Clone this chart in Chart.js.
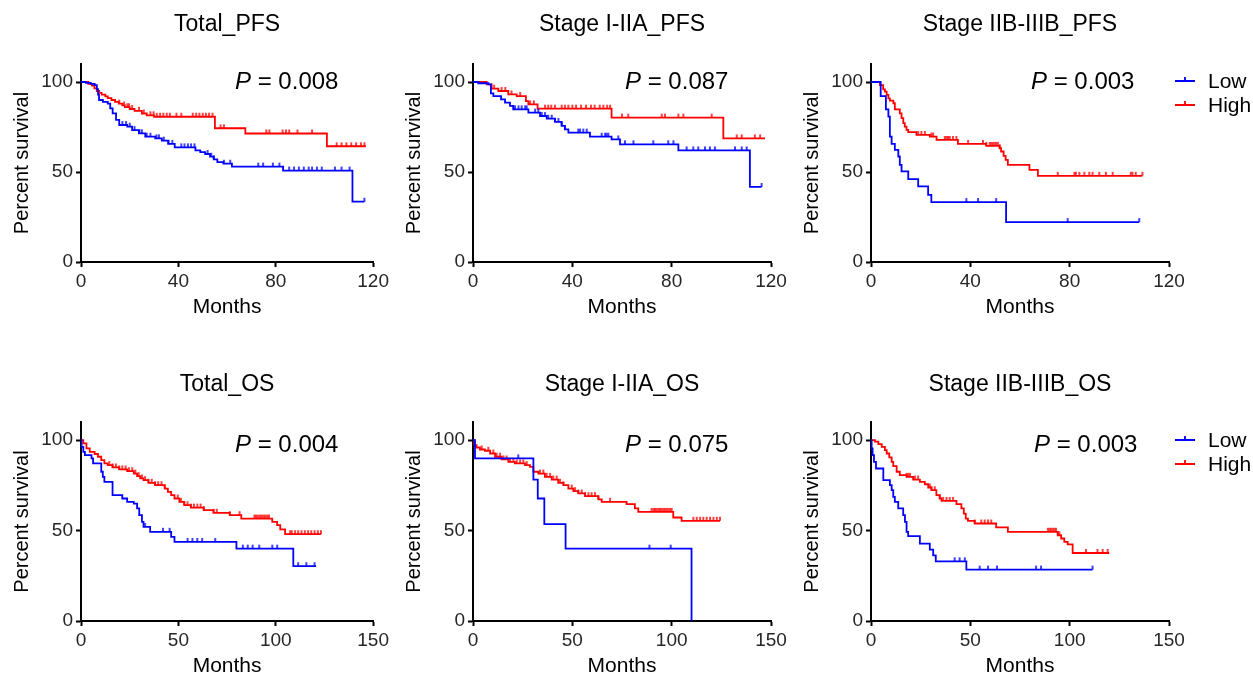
<!DOCTYPE html>
<html><head><meta charset="utf-8">
<script src="https://cdn.jsdelivr.net/npm/chart.js@4.4.1/dist/chart.umd.min.js"></script>
<style>
html,body{margin:0;padding:0;background:#fff;width:1253px;height:678px;overflow:hidden;}
canvas{position:absolute;}
</style></head><body>
<script>
// ---------- tick labels ----------
const pfsMonthTicks = [0, 40, 80, 120];
const osMonthTicks = [0, 50, 100, 150];
const survivalTicks = [0, 50, 100];

// ---------- Total_PFS ----------
const totalPFS_low = [[0,100],[2,99.5],[4,99],[5.6,98.3],[6.5,96],[7,93],[7.4,90],[9,89],[11,88],[12,85.4],[13,82.6],[14.4,79],[15.7,76.1],[19,75.2],[21,73.3],[23.8,71.5],[26.4,69.6],[30.5,68.7],[33.2,67.4],[35.8,65.6],[38.5,63.7],[47,62],[49,61],[51,60],[53,58.5],[54.5,57],[56,55.5],[58.5,54.6],[62,53],[83,50.8],[111.5,33.5],[116.4,33.5]];
const totalPFS_lowCens = [17,18.5,20,22,24,25,27,28.5,31,32,34,36,37.5,41.2,42.5,43.9,45.2,46.6,52,53.5,54.6,58.7,61.3,72.8,74.8,78.8,81.5,85.5,87.5,89.5,91.5,93.5,94.9,96.9,98.9,104.3,107,110.3,116.4];
const totalPFS_high = [[0,100],[3,99],[4.5,98],[5.5,96.5],[6.5,95],[7.5,94],[8.5,93],[10,92],[11,91],[12.5,90],[14,89],[15.5,88],[17,87],[18,86],[20,85],[22,84],[25,82.5],[27,81.5],[30,80.7],[55,74.3],[67.5,71.4],[101,64.3],[117,64.3]];
const totalPFS_highCens = [15.7,17.7,19,19.7,21,23.8,25.8,28.5,29.8,31.1,32.5,33.8,35.2,36.5,39.2,41.2,45.9,47.3,48.6,50,51.3,52.6,54,57.3,58.7,76.1,77.4,82.8,84.2,85.5,88.9,94.9,105,107,109,111,113,115,116.4];

// ---------- Stage I-IIA_PFS ----------
const earlyPFS_low = [[0,100],[2.1,99.3],[6.2,98.7],[7.2,93.7],[8.2,92.2],[11.3,90.4],[12.9,88.5],[14.9,86.7],[16.2,84.8],[22.3,83],[27,81.1],[29.7,79.6],[33,77.8],[35.7,75.6],[37,73.7],[38.4,71.9],[47.1,69.6],[55.8,68.1],[59.2,65.4],[82.7,62],[111.5,41.7],[116.2,41.7]];
const earlyPFS_lowCens = [16.9,18.3,19.6,21,21.6,25,26.3,27.7,29,30.3,31.7,33,34.4,35.7,37,42.4,43.1,44.4,45.8,51.8,53.2,53.8,54.5,58.5,61.2,64.6,72.6,78.6,80.7,86,88.7,90.7,93.4,95.4,97.4,105.5,108.2,110.2,116.2];
const earlyPFS_high = [[0,100],[5.5,98.7],[7.5,96.3],[10.2,95],[14.2,93.1],[17.6,92.2],[21.3,89.4],[22.3,87.6],[26,85.2],[55.8,80.2],[100.8,68.7],[117.6,68.7]];
const earlyPFS_highCens = [8.5,11.5,13,15.5,19,23,24.5,29,30.3,31.5,33,35.7,37,38.4,40,41.5,43.5,45.5,47.5,49,51,52.5,54,55.2,60,62.5,76,77.3,82.7,84.7,96.1,106.2,108.2,113.5,115.6];

// ---------- Stage IIB-IIIB_PFS ----------
const latePFS_low = [[0,100],[3.9,92.2],[6,84.8],[7,80.8],[7.6,69.7],[8.3,65.6],[9.6,62.3],[11,58.6],[11.6,54],[12.3,50.3],[15,46],[19,42],[23,37.3],[24.3,33.3],[54.4,22.2],[108,22.2]];
const latePFS_lowCens = [38.4,43.1,50.4,79.2,108];
const latePFS_high = [[0,100],[3.6,98.3],[4.9,95.9],[5.6,94.6],[6.3,92.8],[7,90.9],[7.6,89.6],[9,88.2],[9.6,84.8],[11.6,82.6],[12.3,79.9],[13,77.1],[13.6,75.2],[14.3,73.4],[15,72.1],[18.3,70.6],[23.7,69.7],[26.4,67.8],[35,65.6],[46.4,64.5],[51.8,63.2],[52.4,61.4],[53.4,59],[54.2,56.7],[55.1,54],[63.8,51.2],[67.2,47.9],[109.3,47.9]];
const latePFS_highCens = [19,20.3,21.7,24.3,25,29.7,30.4,31,31.7,33,34.4,39.1,45.1,46.4,47.8,48.4,49.1,49.8,50.4,51.1,51.8,75.2,81.9,82.5,83.9,85.9,87.9,89.2,91.9,94.6,97.3,104.6,105.3,106.6,109.3];

// ---------- Total_OS ----------
const totalOS_low = [[0,100],[0.3,96.3],[1.2,93.5],[2,91.7],[5.4,89.9],[6.2,87.1],[10.4,82.5],[11.2,79.7],[12,76.9],[16.2,69.6],[21.2,67.7],[23.7,65.9],[27.1,64.9],[28.8,62.2],[29.9,58.5],[31.3,54.8],[32.1,52],[35.5,49.3],[46.3,46.5],[48,43.7],[79.8,40],[109,30.3],[120.7,30.3]];
const totalOS_lowCens = [32.9,42.1,45.5,54.7,57.2,59.7,62.2,68.9,83.1,85.6,88.1,91.5,98.2,100.7,111.5,115.7,119.9];
const totalOS_high = [[0,100],[1.2,98.2],[2.8,95.4],[4.5,93.5],[7,92.3],[8.7,90.8],[10.4,88.9],[12,87.1],[13.7,86.2],[16.2,84.9],[19.6,83.8],[23.7,82.8],[27.1,81.5],[28.8,80.1],[30.4,78.8],[32.1,77.9],[34.6,76.4],[38,75.1],[43,73.2],[44.6,71.4],[46.3,69.6],[48,67.7],[50.5,65.9],[53,64],[56.4,62.7],[63,61.3],[68,59.8],[76.4,58.5],[82.3,56.6],[98.2,54.8],[100.7,53],[102.3,50.6],[104.8,48],[123.2,48]];
const totalOS_highCens = [14.5,16.2,17.9,19.6,21.2,22.9,24.6,26.3,27.9,29.6,31.3,32.9,34.6,36.3,38,39.6,41.3,43,49.7,51.3,53,54.7,56.4,58,59.7,61.4,63,68.1,69.7,76.4,81.4,89,89.8,90.6,91.5,92.3,93.1,94,94.8,95.7,96.5,107.4,108.2,109.9,111.5,113.2,114.9,116.6,118.2,119.9,121.6,123.2];

// ---------- Stage I-IIA_OS ----------
const earlyOS_low = [[0,100],[1,89.9],[30.4,78.2],[32.6,67.7],[35.9,53.5],[46.6,40],[110,0]];
const earlyOS_lowCens = [22.8,88.8,99.5];
const earlyOS_high = [[0,100],[0.7,97.2],[1.8,95.9],[3.5,94.8],[6,94.1],[8.6,92.6],[11.1,90.8],[14.4,89.3],[17.8,88],[21.1,87.1],[26.2,86.2],[28.7,85.2],[30.4,82.5],[32.9,81.5],[36.2,79.7],[39.6,78.2],[42.9,76.4],[45.5,75.1],[48,73.2],[50.5,71.8],[53,70.5],[56.4,69],[63.1,67.2],[64.8,65.9],[77.3,64.6],[81.5,62.2],[83.2,60.3],[100.8,57.2],[105,55.4],[124.3,55.4]];
const earlyOS_highCens = [4.4,7.7,10.2,11.9,13.6,15.3,16.9,18.6,20.3,22,23.7,25.3,27,33.7,35.4,37.1,38.8,40.4,42.1,43.8,45.5,49.7,51.3,53,54.7,56.4,58.1,59.7,61.4,63.1,69,89.9,90.8,91.6,92.4,93.3,94.1,95,95.8,96.6,97.5,98.3,99.2,100,110.9,112.6,114.3,115.9,117.6,119.3,121,122.7,124.3];

// ---------- Stage IIB-IIIB_OS ----------
const lateOS_low = [[0,100],[0.3,95.4],[0.8,91.7],[1.5,88],[2.5,84.3],[6.2,77.9],[9.5,75.1],[10.4,72.3],[11.2,68.6],[12,65.9],[13.7,62.2],[16.2,58.5],[17.1,54.8],[17.9,49.3],[18.7,46.9],[24.6,42.8],[29.6,39.5],[31.3,36.3],[32.6,33],[48,28.4],[111.5,28.4]];
const lateOS_lowCens = [42.1,44.6,47.2,54.7,58.9,63.4,83.1,85.6,111.5];
const lateOS_high = [[0,100],[2,99.1],[3.7,97.8],[5.4,96.3],[7,94.5],[7.9,92.6],[9.2,90.4],[10.4,88],[11.2,85.6],[12.9,82.5],[14.5,80.6],[17.9,79.7],[21.2,78.2],[24.6,76.9],[27.1,75.6],[28.8,73.8],[30.4,72.3],[32.9,69.6],[34.6,67.7],[35.5,66.4],[43,64.6],[45.5,62.2],[46.7,59.4],[47.7,56.6],[48.8,55.4],[52.2,53.9],[63,51.7],[68.9,49.3],[94,47.4],[95.7,45.6],[97.3,43.7],[99,42.4],[101.5,37.6],[119.9,37.6]];
const lateOS_highCens = [17.9,18.7,19.6,22.1,23.7,29.6,30.4,32.1,34.6,36.3,38,39.6,41.3,52.2,55.5,57.2,58.9,60.5,89,89.8,90.6,91.5,92.3,93.1,94,94.8,108.2,114,116.6,119.1];

// ---------- text ----------
const titles = ['Total_PFS','Stage I-IIA_PFS','Stage IIB-IIIB_PFS','Total_OS','Stage I-IIA_OS','Stage IIB-IIIB_OS'];
const pValues = ['0.008','0.087','0.003','0.004','0.075','0.003'];
const groupNames = ['Low','High'];

const FONT = '"Liberation Sans", Arial, Helvetica, sans-serif';
const BLUE = '#0000ff', RED = '#ff0000';

function stepVal(steps, t){ let v = steps[0][1]; for (const [x,y] of steps){ if (x <= t) v = y; else break; } return v; }
function tickImg(color){
  const c = document.createElement('canvas'); c.width = 4; c.height = 10;
  const g = c.getContext('2d'); g.strokeStyle = color; g.lineWidth = 1.5;
  g.beginPath(); g.moveTo(2, 1); g.lineTo(2, 5); g.stroke(); return c;
}
const tickBlue = tickImg(BLUE), tickRed = tickImg(RED);

const cols = [{axisX:81, left:0, width:392},{axisX:473, left:392, width:398},{axisX:871, left:790, width:463}];
const rows = [{top:0, height:340, areaTop:64, areaBottom:262, titleY:31, pY:89, legY:[81,105]},
              {top:340, height:338, areaTop:422, areaBottom:621, titleY:391, pY:452, legY:[440,464]}];
const pXs = [235, 625, 1031, 235, 625, 1034];
const AREA_W = 298, XH = 58;

const panels = [
  [totalPFS_low,totalPFS_lowCens,totalPFS_high,totalPFS_highCens,pfsMonthTicks],
  [earlyPFS_low,earlyPFS_lowCens,earlyPFS_high,earlyPFS_highCens,pfsMonthTicks],
  [latePFS_low,latePFS_lowCens,latePFS_high,latePFS_highCens,pfsMonthTicks],
  [totalOS_low,totalOS_lowCens,totalOS_high,totalOS_highCens,osMonthTicks],
  [earlyOS_low,earlyOS_lowCens,earlyOS_high,earlyOS_highCens,osMonthTicks],
  [lateOS_low,lateOS_lowCens,lateOS_high,lateOS_highCens,osMonthTicks]
];

const annot = {
  id: 'annot',
  afterDraw(chart, args, o){
    const ctx = chart.ctx, ca = chart.chartArea;
    ctx.save();
    ctx.fillStyle = '#000'; ctx.textBaseline = 'alphabetic';
    ctx.font = '23px ' + FONT; ctx.textAlign = 'center';
    ctx.fillText(o.title, (ca.left + ca.right)/2, o.titleY - o.offY);
    ctx.textAlign = 'left';
    let x = o.pX - o.offX;
    ctx.font = 'italic 24px ' + FONT; ctx.fillText('P', x, o.pY - o.offY);
    x += ctx.measureText('P').width;
    ctx.font = '24px ' + FONT; ctx.fillText(' = ' + o.p, x, o.pY - o.offY);
    if (o.legend){
      const lx = ca.right + 6;
      [[BLUE, groupNames[0], o.legY[0]],[RED, groupNames[1], o.legY[1]]].forEach(([c, name, yy])=>{
        const y = yy - o.offY;
        ctx.strokeStyle = c; ctx.lineWidth = 1.8;
        ctx.beginPath(); ctx.moveTo(lx, y); ctx.lineTo(lx + 20, y);
        ctx.moveTo(lx + 10, y); ctx.lineTo(lx + 10, y - 4); ctx.stroke();
        ctx.fillStyle = '#000'; ctx.font = '21px ' + FONT; ctx.textBaseline = 'middle';
        ctx.fillText(name, lx + 33, y + 1);
      });
    }
    ctx.restore();
  }
};

panels.forEach((pd, i) => {
  const col = cols[i % 3], row = rows[Math.floor(i / 3)];
  const [low, lowC, high, highC, xt] = pd;
  const cv = document.createElement('canvas');
  cv.width = col.width; cv.height = row.height;
  cv.style.left = col.left + 'px'; cv.style.top = row.top + 'px';
  document.body.appendChild(cv);
  const yW = col.axisX - col.left;
  const padTop = row.areaTop - row.top;
  const padRight = col.left + col.width - (col.axisX + AREA_W);
  const padBottom = row.top + row.height - row.areaBottom - XH;
  const mk = steps => steps.map(([x,y]) => ({x, y}));
  const ck = (steps, c) => c.map(t => ({x: t, y: stepVal(steps, t)}));
  new Chart(cv, {
    type: 'line',
    data: { datasets: [
      {data: mk(low), stepped: 'before', borderColor: BLUE, borderWidth: 1.8, pointRadius: 0, fill: false},
      {type: 'scatter', data: ck(low, lowC), pointStyle: tickBlue, pointRadius: 3, showLine: false, clip: false},
      {data: mk(high), stepped: 'before', borderColor: RED, borderWidth: 1.8, pointRadius: 0, fill: false},
      {type: 'scatter', data: ck(high, highC), pointStyle: tickRed, pointRadius: 3, showLine: false, clip: false}
    ]},
    options: {
      responsive: false, animation: false, events: [],
      layout: {padding: {left: 0, top: padTop, right: padRight, bottom: padBottom}},
      plugins: {legend: {display: false}, tooltip: {enabled: false},
        annot: {title: titles[i], p: pValues[i], pX: pXs[i], pY: row.pY, titleY: row.titleY,
                offX: col.left, offY: row.top, legend: (i % 3) === 2, legY: row.legY}},
      scales: {
        x: {type: 'linear', min: 0, max: xt[xt.length - 1],
            afterBuildTicks: s => { s.ticks = xt.map(v => ({value: v})); },
            afterFit: s => { s.height = XH; },
            grid: {display: true, drawOnChartArea: false, drawTicks: true, tickLength: 5, tickWidth: 2, tickColor: '#000'},
            border: {display: true, color: '#000', width: 2},
            ticks: {color: '#262626', font: {family: FONT, size: 19}, padding: 3, maxRotation: 0},
            title: {display: true, text: 'Months', color: '#000', font: {family: FONT, size: 21}, padding: {top: 0, bottom: 0}}},
        y: {type: 'linear', min: 0, max: 110,
            afterBuildTicks: s => { s.ticks = survivalTicks.map(v => ({value: v})); },
            afterFit: s => { s.width = yW; },
            grid: {display: true, drawOnChartArea: false, drawTicks: true, tickLength: 5, tickWidth: 2, tickColor: '#000'},
            border: {display: true, color: '#000', width: 2},
            ticks: {color: '#262626', font: {family: FONT, size: 19}, padding: 3},
            title: {display: true, text: 'Percent survival', color: '#000', font: {family: FONT, size: 20}, padding: {top: 10, bottom: 0}}}
      }
    },
    plugins: [annot]
  });
});
</script>
</body></html>
